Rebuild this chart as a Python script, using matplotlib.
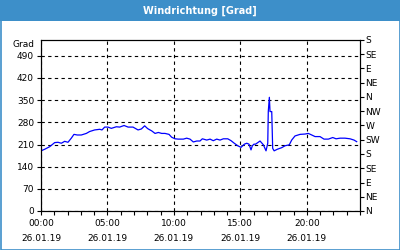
import numpy as np
import matplotlib.pyplot as plt
from matplotlib.patches import Rectangle

# wind direction readings, hours since 26.01.19 00:00
hours = [0.0, 0.28, 0.65, 1.03, 1.28, 1.53, 1.78, 2.03, 2.28, 2.48, 2.73, 3.03,
         3.41, 3.66, 4.04, 4.42, 4.59, 4.79, 5.04, 5.29, 5.67, 5.92, 6.25, 6.55,
         6.92, 7.30, 7.55, 7.80, 8.00, 8.07, 8.33, 8.58, 8.83, 9.08, 9.33, 9.63,
         9.83, 10.08, 10.33, 10.71, 10.96, 11.21, 11.46, 11.72, 11.96, 12.14,
         12.47, 12.72, 12.96, 13.22, 13.47, 13.72, 14.05, 14.30, 14.54, 14.80,
         15.05, 15.30, 15.48, 15.65, 15.80, 15.90, 16.02, 16.14, 16.48, 16.73,
         16.93, 17.06, 17.10, 17.18, 17.23, 17.36, 17.43, 17.54, 17.78, 18.11,
         18.36, 18.68, 18.86, 19.11, 19.49, 19.86, 20.11, 20.37, 20.62, 20.99,
         21.29, 21.62, 21.95, 22.20, 22.50, 22.87, 23.25, 23.55, 23.75]
grad = [190, 195, 203, 216, 217, 214, 220, 217, 230, 242, 240, 240,
        245, 251, 256, 258, 256, 265, 265, 261, 266, 265, 270, 265,
        265, 256, 259, 269, 261, 259, 253, 245, 248, 245, 245, 242,
        233, 228, 227, 227, 230, 227, 218, 221, 221, 228,
        224, 227, 222, 227, 224, 228, 228, 222, 214, 206,
        201, 211, 214, 211, 193, 206, 211, 211, 221, 209,
        190, 214, 314, 359, 314, 314, 198, 190, 195, 200,
        206, 209, 224, 237, 242, 243, 245, 240, 235, 235,
        227, 227, 232, 228, 230, 230, 228, 224, 219]

x_ticks = [0, 5, 10, 15, 20]
x_labels = ["00:00\n26.01.19", "05:00\n26.01.19", "10:00\n26.01.19",
            "15:00\n26.01.19", "20:00\n26.01.19"]
y_ticks = [0, 70, 140, 210, 280, 350, 420, 490]
dir_ticks = [0, 45, 90, 135, 180, 225, 270, 315, 360, 405, 450, 495, 540]
dir_labels = ["N", "NE", "E", "SE", "S", "SW", "W", "NW", "N", "NE", "E", "SE", "S"]

blue = "#3d8fc9"
fs = 6.5

fig = plt.figure(figsize=(4, 2.5), dpi=100)
fig.patch.set_facecolor("white")

# title bar and frame
fig.patches.append(Rectangle((0, 1 - 21 / 250), 1, 21 / 250, transform=fig.transFigure,
                             facecolor=blue, edgecolor="none", zorder=0))
fig.patches.append(Rectangle((0.5 / 400, 0.5 / 250), 399 / 400, 249 / 250,
                             transform=fig.transFigure, facecolor="none",
                             edgecolor=blue, linewidth=1.2, zorder=1))
fig.text(0.5, 1 - 11 / 250, "Windrichtung [Grad]", color="white", fontsize=7,
         fontweight="bold", ha="center", va="center")

ax = fig.add_axes([41 / 400, 1 - 211 / 250, 319 / 400, 171 / 250])
ax.plot(hours, grad, color="#0000ff", linewidth=0.9)
ax.set_xlim(0, 24)
ax.set_ylim(0, 540)

ax.set_xticks(x_ticks)
ax.set_xticklabels(x_labels, fontsize=fs, linespacing=1.75)
ax.set_xticks(np.arange(0, 25, 1), minor=True)
ax.set_yticks(y_ticks)
ax.set_yticklabels([str(v) for v in y_ticks], fontsize=fs)
ax.tick_params(axis="both", which="both", direction="out", length=3, width=0.8, pad=2)
ax.tick_params(axis="x", which="major", pad=3)

ax.grid(True, color="black", linestyle=(0, (3, 3)), linewidth=0.8)
for s in ax.spines.values():
    s.set_linewidth(0.8)

ax.text(-0.02, 1.0, "Grad", transform=ax.transAxes, fontsize=fs,
        ha="right", va="top")

ax2 = ax.twinx()
ax2.set_ylim(0, 540)
ax2.set_yticks(dir_ticks)
ax2.set_yticklabels(dir_labels, fontsize=fs)
ax2.tick_params(axis="y", direction="out", length=3, width=0.8, pad=1)
ax2.spines["right"].set_linewidth(0.8)

fig.savefig("out.png", dpi=100)
